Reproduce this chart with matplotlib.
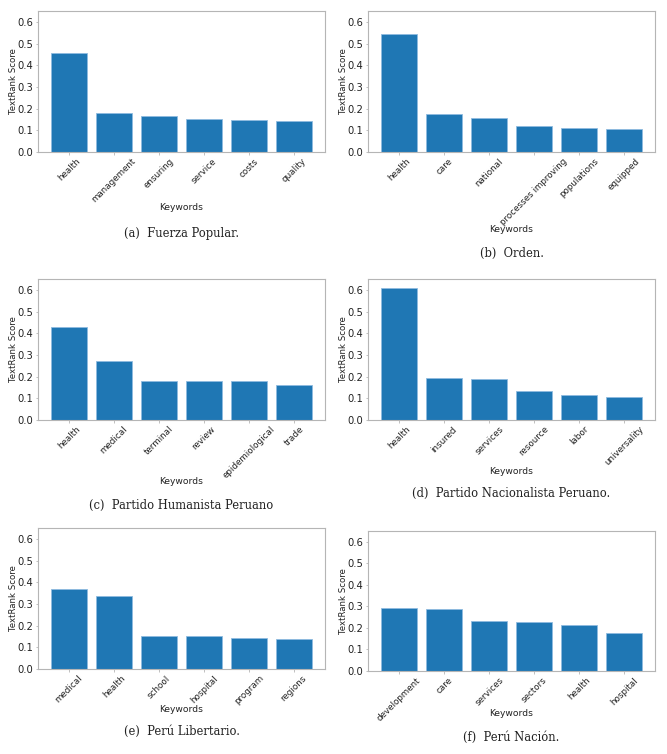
import matplotlib.pyplot as plt

# keywords and scores per party
kw_a = ["health", "management", "ensuring", "service", "costs", "quality"]
sc_a = [0.455, 0.180, 0.165, 0.150, 0.147, 0.145]

kw_b = ["health", "care", "national", "processes improving", "populations", "equipped"]
sc_b = [0.545, 0.175, 0.155, 0.120, 0.112, 0.108]

kw_c = ["health", "medical", "terminal", "review", "epidemiological", "trade"]
sc_c = [0.427, 0.270, 0.180, 0.180, 0.180, 0.160]

kw_d = ["health", "insured", "services", "resource", "labor", "universality"]
sc_d = [0.610, 0.195, 0.190, 0.135, 0.115, 0.107]

kw_e = ["medical", "health", "school", "hospital", "program", "regions"]
sc_e = [0.370, 0.337, 0.152, 0.150, 0.143, 0.138]

kw_f = ["development", "care", "services", "sectors", "health", "hospital"]
sc_f = [0.293, 0.288, 0.230, 0.227, 0.212, 0.177]

captions = ["(a)  Fuerza Popular.", "(b)  Orden.", "(c)  Partido Humanista Peruano",
            "(d)  Partido Nacionalista Peruano.", "(e)  Perú Libertario.", "(f)  Perú Nación."]

W, H = 667, 754
fig = plt.figure(figsize=(W / 100, H / 100), dpi=100)

# pixel boxes: left, right, top, bottom, xlabel y, ylabel x, caption y
boxes = [
    (38, 325, 11, 152, 208, 14, 233),
    (368, 655, 11, 152, 230, 344, 253),
    (38, 325, 279, 420, 482, 14, 505),
    (368, 655, 279, 420, 471, 344, 493),
    (38, 325, 528, 669, 710, 14, 731),
    (368, 655, 531, 671, 714, 344, 737),
]
data = [(kw_a, sc_a), (kw_b, sc_b), (kw_c, sc_c), (kw_d, sc_d), (kw_e, sc_e), (kw_f, sc_f)]

for (l, r, t, b, xly, ylx, cy), (kw, sc), cap in zip(boxes, data, captions):
    ax = fig.add_axes([l / W, 1 - b / H, (r - l) / W, (b - t) / H])
    ax.bar(kw, sc, color="#1f77b4", edgecolor="#8fbbe0", linewidth=0.6)
    ax.set_ylim(0, 0.65)
    ax.set_yticks([0, 0.1, 0.2, 0.3, 0.4, 0.5, 0.6])
    ax.tick_params(length=1.8, width=0.6, color="#b5b5b5", labelcolor="#222222")
    ax.tick_params(axis="y", labelsize=7.2, pad=1.5)
    ax.tick_params(axis="x", pad=1.5)
    ax.set_xticks(range(len(kw)))
    ax.set_xticklabels(kw, rotation=45, fontsize=6.3)
    ax.set_xlabel("Keywords", fontsize=6.6, va="center", color="#222222")
    ax.set_ylabel("TextRank Score", fontsize=6.2, va="center", color="#222222")
    ax.xaxis.set_label_coords(0.5, (b - xly) / (b - t))
    ax.yaxis.set_label_coords((ylx - l) / (r - l), 0.5)
    for s in ax.spines.values():
        s.set_color("#b5b5b5")
        s.set_linewidth(0.8)
    fig.text((l + r) / 2 / W, 1 - cy / H, cap, ha="center", va="center",
             fontsize=8.3, family="DejaVu Serif", color="#222222")

fig.savefig("out.png", dpi=100)
